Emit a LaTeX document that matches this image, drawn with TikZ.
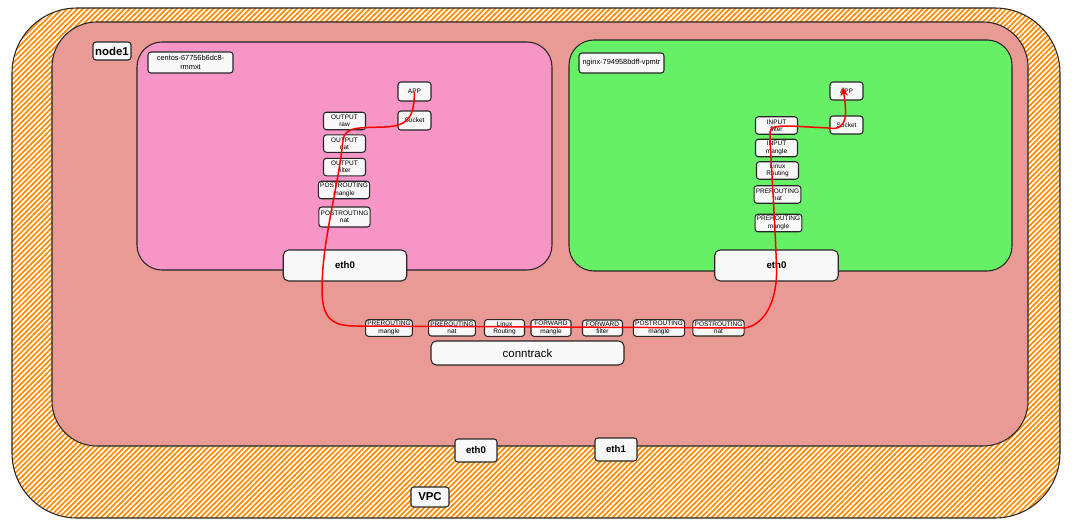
\documentclass[tikz,border=0pt]{standalone}
\usepackage{fontspec}
\setmainfont{Liberation Sans}
\usetikzlibrary{arrows.meta,positioning,patterns.meta}
\definecolor{hatch}{HTML}{FF8A00}
\definecolor{hostbg}{HTML}{E99A95}
\definecolor{podpink}{HTML}{F795C7}
\definecolor{podgreen}{HTML}{66F066}
\definecolor{boxbg}{HTML}{F8F8F8}
\newcommand{\chainfont}{\fontsize{3.7}{4.1}\selectfont}

\begin{document}
\begin{tikzpicture}[
  x=0.02cm, y=-0.02cm,
  region/.style={draw=black!85, line width=0.6pt},
  tag/.style={draw=black!85, fill=boxbg, rounded corners=1.6pt, line width=0.6pt, inner sep=1pt, align=center},
  chain/.style={tag, font=\chainfont, minimum width=0.84cm, minimum height=0.35cm},
  wchain/.style={chain, minimum width=0.97cm},
  rowbox/.style={tag, font=\chainfont, minimum width=0.8cm, minimum height=0.32cm},
  iface/.style={tag, rounded corners=3pt, minimum width=2.47cm, minimum height=0.62cm, font=\bfseries\fontsize{5.5}{6}\selectfont},
  flow/.style={red, line width=0.85pt}]
  \useasboundingbox[fill=white] (0,0) rectangle (1080,530);
  % VPC
  \draw[region, rounded corners=1.3cm, pattern={Lines[angle=45,distance=2.1pt,line width=1pt]}, pattern color=hatch] (12,8) rectangle (1060,518);
  % node1
  \draw[region, fill=hostbg, rounded corners=0.9cm] (52,22) rectangle (1028,446);
  % pods
  \draw[region, fill=podpink, rounded corners=0.5cm] (137,42) rectangle (552,270);
  \draw[region, fill=podgreen, rounded corners=0.5cm] (569,40) rectangle (1012,271);

  \node[tag, font=\bfseries\fontsize{6.5}{7}\selectfont, minimum width=0.76cm, minimum height=0.36cm] (node1) at (112,51) {node1};
  \node[tag, font=\fontsize{4.2}{4.8}\selectfont, minimum width=1.7cm, minimum height=0.42cm] (podL) at (190.5,62.5) {centos-67756b6dc8-\\rmmxt};
  \node[tag, font=\fontsize{4.2}{4.8}\selectfont, minimum width=1.7cm, minimum height=0.4cm] (podR) at (621.5,63) {nginx-794958bdff-vpmtr};

  % centos pod
  \node[chain, minimum width=0.66cm, minimum height=0.38cm] (appL) at (414.5,91.5) {APP};
  \node[chain, minimum width=0.66cm, minimum height=0.38cm] (sockL) at (414.5,120.5) {Socket};
  \node[chain] (outRaw) at (344.5,121) {OUTPUT\\raw};
  \node[chain, below=0.08cm of outRaw] (outNat) {OUTPUT\\nat};
  \node[chain, below=0.1cm of outNat] (outFil) {OUTPUT\\filter};
  \node[wchain] (postMgL) at (344,190) {POSTROUTING\\mangle};
  \node[wchain, minimum height=0.4cm] (postNatL) at (344.5,217) {POSTROUTING\\nat};
  \node[iface] (ethL) at (345,265.5) {eth0};

  % nginx pod
  \node[chain, minimum width=0.66cm, minimum height=0.36cm] (appR) at (846.5,91) {APP};
  \node[chain, minimum width=0.66cm, minimum height=0.36cm] (sockR) at (846.5,125) {Socket};
  \node[chain] (inFil) at (776.5,125.5) {INPUT\\filter};
  \node[chain] (inMg) at (776.5,148) {INPUT\\mangle};
  \node[chain] (lxRtR) at (777.5,170.5) {Linux\\Routing};
  \node[chain] (preNatR) at (777.5,194.5) {PREROUTING\\nat};
  \node[chain] (preMgR) at (778.5,223) {PREROUTING\\mangle};
  \node[iface] (ethR) at (776.5,265.5) {eth0};

  % host chains
  \node[rowbox] (preMg) at (389,328) {PREROUTING\\mangle};
  \node[rowbox] (preNat) at (452,328) {PREROUTING\\nat};
  \node[rowbox] (lxRt) at (504.5,328) {Linux\\Routing};
  \node[rowbox] (fwMg) at (551,328) {FORWARD\\mangle};
  \node[rowbox] (fwFil) at (602.5,328) {FORWARD\\filter};
  \node[rowbox, minimum width=0.92cm] (postMg) at (659,328) {POSTROUTING\\mangle};
  \node[rowbox, minimum width=0.98cm] (postNat) at (718.5,328) {POSTROUTING\\nat};
  \node[tag, rounded corners=3pt, minimum width=3.86cm, minimum height=0.48cm, font=\fontsize{6.5}{7}\selectfont] (ct) at (527.5,353) {conntrack};

  % host interfaces
  \node[tag, font=\bfseries\fontsize{5.5}{6}\selectfont, minimum width=0.84cm, minimum height=0.46cm] (ethA) at (476,450.5) {eth0};
  \node[tag, font=\bfseries\fontsize{5.5}{6}\selectfont, minimum width=0.84cm, minimum height=0.46cm] (ethB) at (616,449.5) {eth1};
  \node[tag, font=\bfseries\fontsize{6.5}{7}\selectfont, minimum width=0.76cm, minimum height=0.4cm] (vpc) at (430,497) {VPC};

  % packet path
  \draw[flow] (appL.center) .. controls (414,115) and (410,126) .. (385,127)
    .. controls (360,128) and (345,126) .. (343,140)
    .. controls (338,190) and (322,240) .. (322,290)
    .. controls (322,318) and (332,326) .. (355,326) -- (postNat.east);
  \draw[flow, -{Stealth[length=1.8mm, width=1.5mm]}] (postNat.east)
    .. controls (765,325) and (778,300) .. (ethR.center)
    .. controls (774,200) and (770,150) .. (770,134)
    .. controls (770,127) and (774,126) .. (790,126) -- (828,128)
    .. controls (850,132) and (846,110) .. (843,87);
\end{tikzpicture}
\end{document}
